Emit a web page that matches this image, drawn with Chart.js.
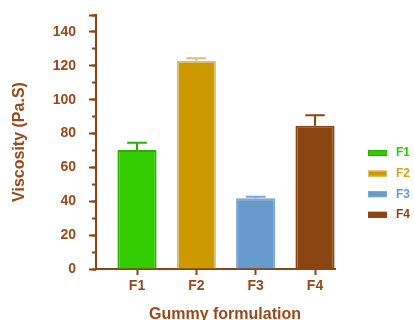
<!DOCTYPE html>
<html>
<head>
<meta charset="utf-8">
<script src="https://cdn.jsdelivr.net/npm/chart.js@4/dist/chart.umd.min.js"></script>
<style>
  html, body { margin: 0; padding: 0; background: #fff; }
  canvas { display: block; }
</style>
</head>
<body>
<canvas id="myChart" width="414" height="320"></canvas>
<script>
'use strict';

const formulations = ['F1', 'F2', 'F3', 'F4'];
const viscosity = [70.3, 122.9, 41.8, 84.6];
const viscosityErr = [4.3, 1.5, 0.9, 6.2];
const yTickLabels = [0, 20, 40, 60, 80, 100, 120, 140];

const barColors = ['#33cc00', '#cc9900', '#6699cc', '#8b4513'];
const barBorders = ['#26b000', '#dcbc70', '#7ba7d4', '#8b4513'];
const legendText = ['#33cc00', '#d4a020', '#6699cc', '#8b4513'];

const axisColor = '#8b4513';
const textColor = '#994a1c';
const fontFamily = '"Liberation Sans", Arial, sans-serif';


// error bars, only the upper half like the original figure
const errorBars = {
  id: 'errorBars',
  afterDatasetsDraw(chart) {
    const ctx = chart.ctx;
    const yScale = chart.scales.y;
    const meta = chart.getDatasetMeta(0);
    meta.data.forEach((bar, i) => {
      const top = yScale.getPixelForValue(viscosity[i] + viscosityErr[i]);
      const half = bar.width / 4;
      ctx.save();
      ctx.strokeStyle = barBorders[i];
      ctx.lineWidth = 2;
      ctx.beginPath();
      ctx.moveTo(bar.x, bar.y);
      ctx.lineTo(bar.x, top);
      ctx.moveTo(bar.x - half, top);
      ctx.lineTo(bar.x + half, top);
      ctx.stroke();
      ctx.restore();
    });
  }
};

// legend on the right and the x title
const extras = {
  id: 'extras',
  afterDraw(chart) {
    const ctx = chart.ctx;
    ctx.save();
    ctx.font = 'bold 12px ' + fontFamily;
    ctx.textBaseline = 'middle';
    ctx.textAlign = 'left';
    for (let i = 0; i < formulations.length; i++) {
      const y = 153 + i * 20.6;
      ctx.fillStyle = barColors[i];
      ctx.fillRect(368, y - 3, 19, 6);
      ctx.strokeStyle = barBorders[i];
      ctx.lineWidth = 1;
      ctx.strokeRect(368.5, y - 2.5, 18, 5);
      ctx.fillStyle = legendText[i];
      ctx.fillText(formulations[i], 396, y);
    }

    ctx.font = 'bold 16px ' + fontFamily;
    ctx.textAlign = 'center';
    ctx.fillStyle = textColor;
    ctx.fillText('Gummy formulation', 225, 315);
    ctx.restore();
  }
};

// extra left axes that only draw tick marks (major / minor)
function tickAxis(step, len, weight) {
  return {
    axis: 'y',
    position: 'left',
    weight: weight,
    min: 0,
    max: 150,
    afterFit: (scale) => { scale.width = 0; },
    ticks: { stepSize: step, display: false },
    grid: { drawOnChartArea: false, tickLength: len, tickWidth: 2, tickColor: axisColor },
    border: { display: false }
  };
}


const ctx = document.getElementById('myChart').getContext('2d');
const chart = new Chart(ctx, {
  type: 'bar',
  data: {
    datasets: [{
      data: formulations.map((f, i) => ({ x: i + 1, y: viscosity[i] })),
      backgroundColor: barColors,
      borderColor: barBorders,
      borderWidth: 2,
      barPercentage: 0.66,
      categoryPercentage: 1
    }]
  },
  options: {
    responsive: false,
    animation: false,
    layout: { padding: { top: 15, right: 79, left: 0, bottom: 0 } },
    plugins: {
      legend: { display: false },
      tooltip: { enabled: false }
    },
    scales: {
      x: {
        type: 'linear',
        offset: false,
        min: 0.309,
        max: 4.337,
        afterBuildTicks: (scale) => {
          scale.ticks = formulations.map((f, i) => ({ value: i + 1 }));
        },
        afterFit: (scale) => { scale.height = 51; },
        ticks: {
          callback: (v) => formulations[v - 1],
          color: textColor,
          font: { family: fontFamily, size: 14, weight: 'bold' },
          padding: 3,
          maxRotation: 0
        },
        grid: { offset: false, drawOnChartArea: false, tickLength: 6, tickWidth: 2, tickColor: axisColor },
        border: { color: axisColor, width: 2 }
      },
      y: {
        position: 'left',
        weight: 2,
        min: 0,
        max: 150,
        afterFit: (scale) => { scale.width = 96; },
        afterBuildTicks: (scale) => {
          scale.ticks = yTickLabels.map(v => ({ value: v }));
        },
        ticks: {
          color: textColor,
          font: { family: fontFamily, size: 14, weight: 'bold' },
          padding: 3
        },
        title: {
          display: true,
          text: 'Viscosity (Pa.S)',
          color: textColor,
          font: { family: fontFamily, size: 16, weight: 'bold' },
          padding: { top: 10, bottom: 0 }
        },
        grid: { drawOnChartArea: false, tickLength: 17, tickColor: 'rgba(0,0,0,0)' },
        border: { color: axisColor, width: 2 }
      },
      yMajor: tickAxis(20, 7, 1),
      yMinor: tickAxis(10, 4, 0)
    }
  },
  plugins: [errorBars, extras]
});
</script>
</body>
</html>
